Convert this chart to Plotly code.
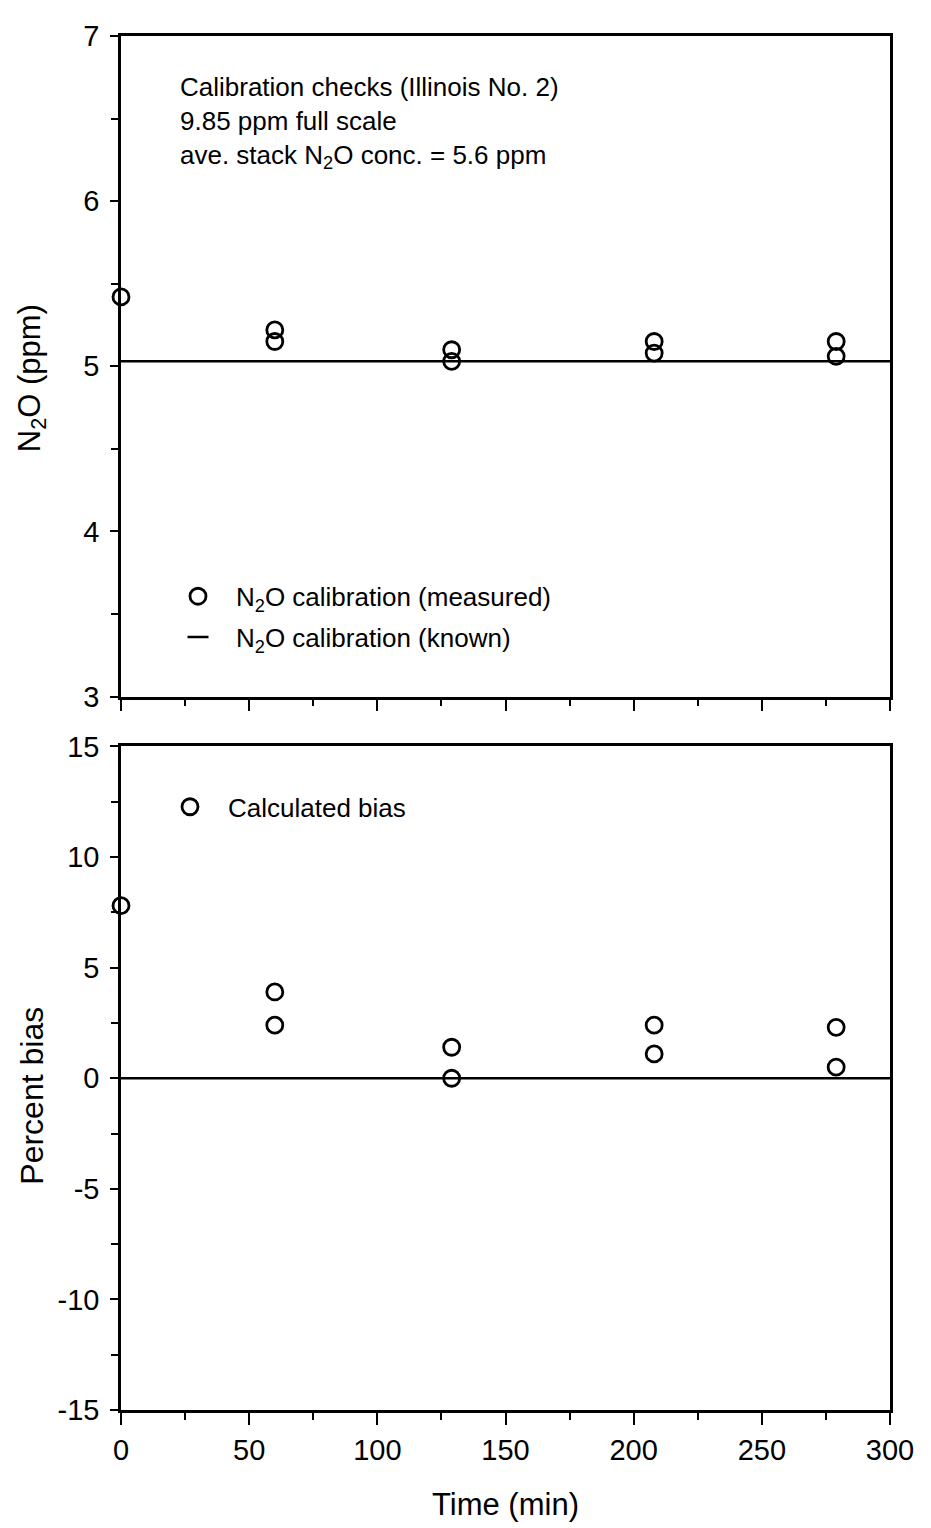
import plotly.graph_objects as go

# ---- data ----
time_min = [0, 60, 60, 129, 129, 208, 208, 279, 279]
n2o_measured = [5.42, 5.22, 5.15, 5.10, 5.03, 5.15, 5.08, 5.15, 5.06]
known_time = [0, 300]
n2o_known = [5.03, 5.03]
percent_bias = [7.8, 3.9, 2.4, 1.4, 0.0, 2.4, 1.1, 2.3, 0.5]
zero_time = [0, 300]
zero_bias = [0, 0]

x_ticks = [0, 50, 100, 150, 200, 250, 300]
y1_ticks = [3, 4, 5, 6, 7]
y2_ticks = [-15, -10, -5, 0, 5, 10, 15]
y2_ticktext = ["-15", "-10", "-5", "0", "5", "10", "15"]

FONT = "Liberation Sans, Arial, Helvetica, sans-serif"
OFF = 8  # page body margin
W, H = 931 - OFF, 1528 - OFF
ML = 121 - OFF
MT = 33 - OFF
MR = W - (890 - OFF)
MB = H - (1410 - OFF)
PW = W - ML - MR
PH = H - MT - MB


def fy(px):  # reference pixel y -> paper fraction
    return (H - MB - (px - OFF)) / PH


def fx(px):  # reference pixel x -> paper fraction
    return ((px - OFF) - ML) / PW


fig = go.Figure()

marker = dict(symbol="circle-open", size=16, color="black", line=dict(width=2.8, color="black"))

fig.add_trace(go.Scatter(x=time_min, y=n2o_measured, mode="markers", marker=marker,
                         name="N<sub>2</sub>O calibration (measured)", xaxis="x", yaxis="y",
                         cliponaxis=False, legend="legend", legendgroup="a"))
fig.add_trace(go.Scatter(x=known_time, y=n2o_known, mode="lines",
                         line=dict(color="black", width=2.5), showlegend=False,
                         xaxis="x", yaxis="y", legendgroup="b"))
# legend proxy: short dash for the known line
fig.add_trace(go.Scatter(x=[None], y=[None], mode="markers",
                         marker=dict(symbol="line-ew-open", size=15, color="black",
                                     line=dict(width=2.5, color="black")),
                         name="N<sub>2</sub>O calibration (known)", xaxis="x", yaxis="y",
                         legend="legend", legendgroup="b"))
fig.add_trace(go.Scatter(x=time_min, y=percent_bias, mode="markers", marker=marker,
                         name="Calculated bias", xaxis="x2", yaxis="y2",
                         cliponaxis=False, legend="legend2"))
fig.add_trace(go.Scatter(x=zero_time, y=zero_bias, mode="lines",
                         line=dict(color="black", width=2.5), showlegend=False,
                         xaxis="x2", yaxis="y2"))

axis_common = dict(showline=True, linewidth=2.5, linecolor="black", mirror=True,
                   showgrid=False, zeroline=False, ticks="outside", tickwidth=2,
                   tickcolor="black", tickfont=dict(family=FONT, size=29, color="black"))

top_dom = [fy(695), 1.0]
bot_dom = [0.0, fy(745)]

fig.update_layout(
    width=W, height=H,
    margin=dict(l=ML, r=MR, t=MT, b=MB),
    paper_bgcolor="white", plot_bgcolor="white",
    font=dict(family=FONT, color="black"),
    xaxis=dict(axis_common, domain=[0, 1], range=[0, 300], anchor="y",
               tickvals=x_ticks, showticklabels=False, ticklen=12,
               minor=dict(ticks="outside", dtick=25, tick0=0, ticklen=7, tickwidth=2, tickcolor="black")),
    yaxis=dict(axis_common, domain=top_dom, range=[3, 7], anchor="x",
               tickvals=y1_ticks, ticklen=8, ticklabelstandoff=5,
               minor=dict(ticks="outside", dtick=0.5, tick0=3, ticklen=7, tickwidth=2, tickcolor="black")),
    xaxis2=dict(axis_common, domain=[0, 1], range=[0, 300], anchor="y2",
                tickvals=x_ticks, ticklen=12,
                minor=dict(ticks="outside", dtick=25, tick0=0, ticklen=7, tickwidth=2, tickcolor="black"),
                title=dict(text="Time (min)", font=dict(family=FONT, size=31, color="black"), standoff=29)),
    yaxis2=dict(axis_common, domain=bot_dom, range=[-15, 15], anchor="x2",
                tickvals=y2_ticks, ticktext=y2_ticktext, ticklen=8, ticklabelstandoff=5,
                minor=dict(ticks="outside", dtick=2.5, tick0=0, ticklen=7, tickwidth=2, tickcolor="black")),
    legend=dict(x=fx(160), y=fy(571), xanchor="left", yanchor="top", bgcolor="rgba(0,0,0,0)",
                font=dict(family=FONT, size=26, color="black"), itemwidth=66,
                tracegroupgap=4),
    legend2=dict(x=fx(152), y=fy(782), xanchor="left", yanchor="top", bgcolor="rgba(0,0,0,0)",
                 font=dict(family=FONT, size=26, color="black"), itemwidth=66),
    annotations=[
        dict(text="Calibration checks (Illinois No. 2)<br>9.85 ppm full scale<br>"
                  "ave. stack N<sub>2</sub>O conc. = 5.6 ppm",
             xref="paper", yref="paper", x=fx(178), y=fy(67), xanchor="left", yanchor="top",
             align="left", showarrow=False, font=dict(family=FONT, size=26, color="black")),
        dict(text="N<sub>2</sub>O (ppm)", xref="paper", yref="paper", x=fx(32), y=fy(376),
             xanchor="center", yanchor="middle", textangle=-90, showarrow=False,
             font=dict(family=FONT, size=31, color="black")),
        dict(text="Percent bias", xref="paper", yref="paper", x=fx(32), y=fy(1095),
             xanchor="center", yanchor="middle", textangle=-90, showarrow=False,
             font=dict(family=FONT, size=32, color="black")),
    ],
)

fig.write_html("out.html")
